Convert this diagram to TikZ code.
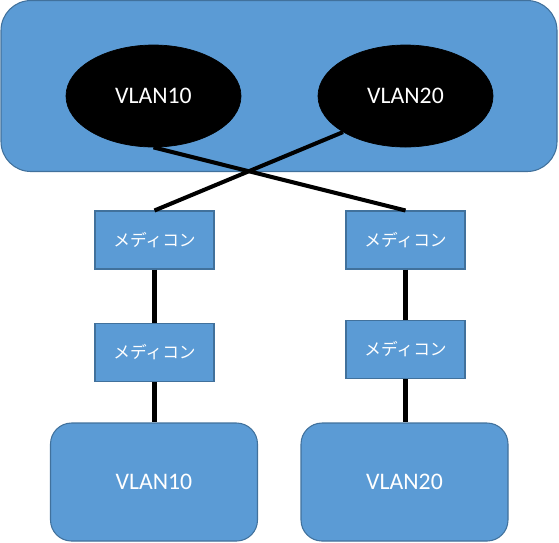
\documentclass[tikz,border=0pt]{standalone}
\usepackage{fontspec}
\setmainfont{Carlito}
\newfontfamily\jpfont{Noto Sans CJK JP}
\usepackage{tikz}
\usepackage{xcolor}
\usetikzlibrary{positioning, shapes.geometric}
\definecolor{offblue}{RGB}{91, 155, 213}
\definecolor{offedge}{RGB}{65, 113, 156}

\begin{document}
\begin{tikzpicture}[
      panel/.style={draw=offedge, fill=offblue, line width=0.6pt, rounded corners=0.6cm,
        minimum width=11.12cm, minimum height=3.42cm, inner sep=0pt},
      vlan/.style={ellipse, draw=black, fill=black, text=white,
        minimum width=3.5cm, minimum height=2.04cm, inner sep=0pt,
        font=\fontsize{13.5}{16}\selectfont},
      conv/.style={draw=offedge, fill=offblue, line width=0.6pt, text=white,
        minimum width=2.38cm, minimum height=1.16cm, inner sep=0pt,
        font=\jpfont\fontsize{9.5}{12}\selectfont},
      site/.style={draw=offedge, fill=offblue, line width=0.6pt, rounded corners=0.42cm,
        text=white, minimum width=4.14cm, minimum height=2.36cm, inner sep=0pt,
        font=\fontsize{13.5}{16}\selectfont},
      wire/.style={line width=2.3pt, black}
    ]
    \useasboundingbox (0,0) rectangle (11.18,-10.84);

    \node[panel] (core) at (5.58,-1.72) {};
    \node[vlan] (vlanA) at (3.07,-1.92) {VLAN10};
    \node[vlan] (vlanB) at (8.11,-1.92) {VLAN20};

    \node[conv] (convA) at (3.09,-4.80) {メディコン};
    \node[conv] (convB) at (3.09,-7.05) {メディコン};
    \node[conv] (convC) at (8.11,-4.80) {メディコン};
    \node[conv] (convD) at (8.11,-6.99) {メディコン};

    \node[site] (siteA) at (3.08,-9.64) {VLAN10};
    \node[site] (siteB) at (8.09,-9.64) {VLAN20};

    \draw[wire] (vlanA.south) -- (convC.north);
    \draw[wire] (vlanB.210) -- (convA.north);
    \draw[wire] (convA) -- (convB);
    \draw[wire] (convB) -- (siteA.north -| convB);
    \draw[wire] (convC) -- (convD);
    \draw[wire] (convD) -- (siteB.north -| convD);
  \end{tikzpicture}
\end{document}
